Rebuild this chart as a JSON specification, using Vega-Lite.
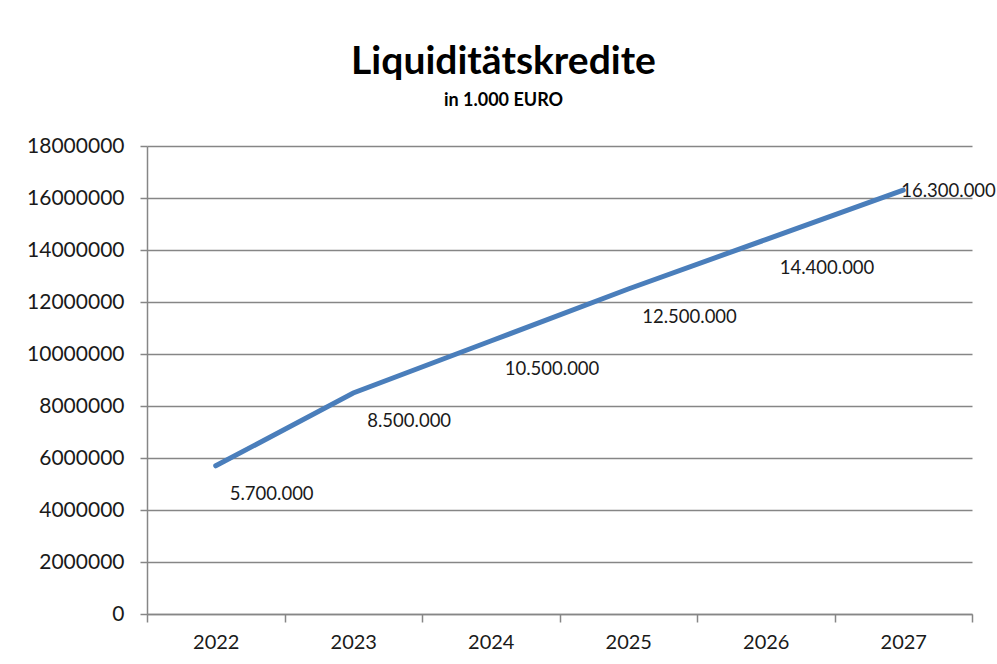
{
  "$schema": "https://vega.github.io/schema/vega-lite/v6.json",
  "width": 825,
  "height": 468,
  "autosize": {"type": "none"},
  "padding": {"left": 147, "top": 146, "right": 25, "bottom": 50},
  "background": "white",
  "config": {
    "font": "Lato",
    "view": {"stroke": null},
    "locale": {"number": {"decimal": ",", "thousands": ".", "grouping": [3], "currency": ["", " €"]}}
  },
  "title": {
    "text": "Liquiditätskredite",
    "subtitle": "in 1.000 EURO",
    "anchor": "middle",
    "frame": "group",
    "dx": -56,
    "offset": 25,
    "font": "Lato",
    "fontSize": 39,
    "fontWeight": "bold",
    "color": "#000000",
    "subtitleFont": "Lato",
    "subtitleFontSize": 18,
    "subtitleFontWeight": "bold",
    "subtitleColor": "#000000",
    "subtitlePadding": 10
  },
  "data": {
    "values": [
      {"Jahr": "2022", "Wert": 5700000},
      {"Jahr": "2023", "Wert": 8500000},
      {"Jahr": "2024", "Wert": 10500000},
      {"Jahr": "2025", "Wert": 12500000},
      {"Jahr": "2026", "Wert": 14400000},
      {"Jahr": "2027", "Wert": 16300000}
    ]
  },
  "encoding": {
    "x": {
      "field": "Jahr",
      "type": "ordinal",
      "scale": {"paddingInner": 0, "paddingOuter": 0},
      "axis": {
        "title": null,
        "labelAngle": 0,
        "tickBand": "extent",
        "labelFont": "Lato",
        "labelFontSize": 20,
        "labelColor": "#1a1a1a",
        "labelPadding": 10,
        "tickSize": 8,
        "tickColor": "#868686",
        "tickWidth": 1.5,
        "domainColor": "#868686",
        "domainWidth": 1.5,
        "grid": false
      }
    },
    "y": {
      "field": "Wert",
      "type": "quantitative",
      "scale": {"domain": [0, 18000000], "nice": false},
      "axis": {
        "title": null,
        "format": "d",
        "values": [0, 2000000, 4000000, 6000000, 8000000, 10000000, 12000000, 14000000, 16000000, 18000000],
        "labelFont": "Lato",
        "labelFontSize": 21,
        "labelColor": "#1a1a1a",
        "labelPadding": 16,
        "tickSize": 7,
        "tickColor": "#868686",
        "tickWidth": 1.5,
        "domainColor": "#868686",
        "domainWidth": 1.5,
        "grid": true,
        "gridColor": "#868686",
        "gridWidth": 1.5,
        "gridOpacity": 1
      }
    }
  },
  "layer": [
    {
      "mark": {"type": "line", "color": "#4a7ebb", "strokeWidth": 5, "strokeCap": "round"}
    },
    {
      "transform": [{"filter": "datum.Jahr != '2027'"}],
      "mark": {"type": "text", "align": "left", "baseline": "middle", "dx": 14, "dy": 28, "font": "Lato", "fontSize": 18.5, "color": "#1a1a1a"},
      "encoding": {"text": {"field": "Wert", "type": "quantitative", "format": ",d"}}
    },
    {
      "transform": [{"filter": "datum.Jahr == '2027'"}],
      "mark": {"type": "text", "align": "left", "baseline": "middle", "dx": -2, "dy": 1, "font": "Lato", "fontSize": 18.5, "color": "#1a1a1a"},
      "encoding": {"text": {"field": "Wert", "type": "quantitative", "format": ",d"}}
    }
  ]
}
